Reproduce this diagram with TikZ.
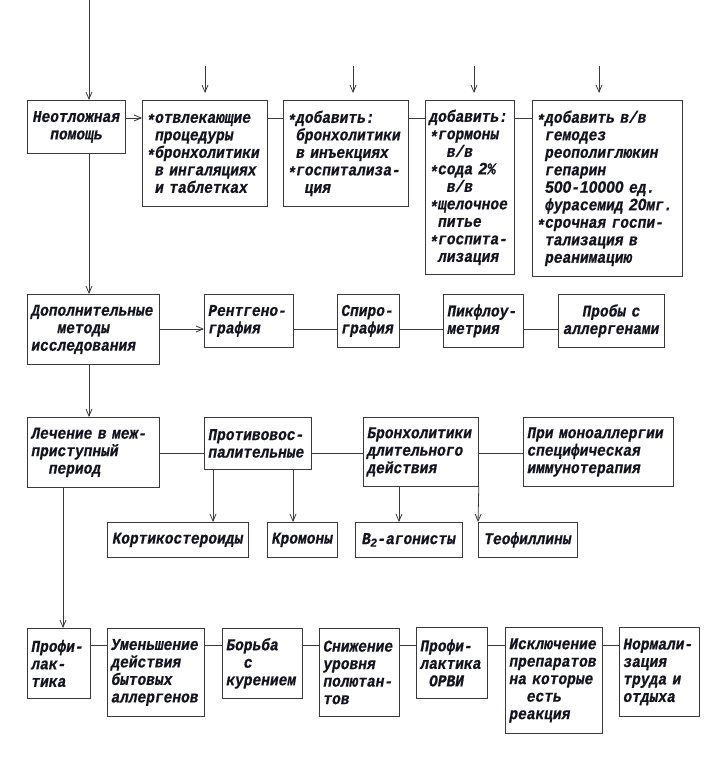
\documentclass[tikz,border=0pt]{standalone}
\usepackage{fontspec}
\newfontfamily\boxfnt{Liberation Mono}[FakeStretch=0.88, FakeBold=0.6]
\newfontfamily\digfnt{Liberation Sans}[FakeStretch=0.95, FakeBold=0.6]
\usetikzlibrary{arrows.meta}
\definecolor{ink}{HTML}{141420}
\definecolor{linec}{HTML}{3A3A3A}
\newcommand\bxf{\boxfnt\bfseries\itshape\fontsize{16.5}{17.5}\selectfont}
\newcommand\sk{\hspace*{8.7pt}}
\newcommand\bst{\raisebox{-0.35ex}{*}}
\newcommand\dg[1]{{\digfnt\bfseries\itshape #1}}
\begin{document}
\begin{tikzpicture}[x=1pt,y=-1pt,
  box/.style={draw=linec, line width=0.8pt, anchor=north west, inner xsep=4pt, inner ysep=1pt, align=left, font=\bxf, text=ink},
  cbox/.style={box, align=center},
  con/.style={draw=linec, line width=0.8pt},
  arr/.style={con, -{Straight Barb[length=7pt,width=6pt]}}]
\useasboundingbox[fill=white] (0,0) rectangle (712,768);

% Row 1
\node[cbox, text width=90pt, minimum height=53pt] (n1) at (27,100) {Неотложная\\помощь};
\node[box, text width=117pt, minimum height=106pt] (n2) at (142,100)
  {\bst отвлекающие\\\sk процедуры\\\bst бронхолитики\\\sk в ингаляциях\\\sk и таблетках};
\node[box, text width=117pt, minimum height=106pt] (n3) at (283,100)
  {\bst добавить:\\\sk бронхолитики\\\sk в инъекциях\\\bst госпитализа-\\\sk\sk ция};
\node[box, text width=81pt, minimum height=174pt] (n4) at (425,100)
  {добавить:\\\bst гормоны\\\sk\sk в/в\\\bst сода \dg{2}\%\\\sk\sk в/в\\\bst щелочное\\\sk питье\\\bst госпита-\\\sk лизация};
\node[box, text width=142pt, minimum height=176pt] (n5) at (532,100)
  {\bst добавить в/в\\\sk гемодез\\\sk реополиглюкин\\\sk гепарин\\\sk \dg{500}-\dg{10000} ед.\\\sk фурасемид \dg{20}мг.\\\bst срочная госпи-\\\sk тализация в\\\sk реанимацию};

% Row 2
\node[box, text width=124pt, minimum height=70pt] (d0) at (27,294)
  {Дополнительные\\\sk\sk\sk методы\\исследования};
\node[box, text width=81pt, minimum height=53pt] (d1) at (204,294) {Рентгено-\\графия};
\node[box, text width=54pt, minimum height=53pt] (d2) at (337,294) {Спиро-\\графия};
\node[box, text width=72pt, minimum height=53pt] (d3) at (443,294) {Пикфлоу-\\метрия};
\node[cbox, text width=98pt, minimum height=53pt] (d4) at (558,294) {Пробы с\\аллергенами};

% Row 3
\node[box, text width=124pt, minimum height=70pt] (t0) at (27,417)
  {Лечение в меж-\\приступный\\\sk\sk период};
\node[box, text width=99pt, minimum height=52pt] (t1) at (204,417) {Противовос-\\палительные};
\node[box, text width=107pt, minimum height=69pt] (t2) at (363,417) {Бронхолитики\\длительного\\действия};
\node[box, text width=142pt, minimum height=69pt] (t3) at (523,417) {При моноаллергии\\специфическая\\иммунотерапия};

\node[cbox, text width=133pt, minimum height=35pt] (s1) at (107,522) {Кортикостероиды};
\node[cbox, text width=62pt, minimum height=35pt] (s2) at (267,522) {Кромоны};
\node[cbox, text width=99pt, minimum height=35pt] (s3) at (355,522) {В\textsubscript{\dg{2}}-агонисты};
\node[cbox, text width=91pt, minimum height=35pt] (s4) at (478,522) {Теофиллины};

% Row 4
\node[box, text width=55pt, minimum height=70pt] (p0) at (27,628) {Профи-\\лак-\\тика};
\node[box, text width=89pt, minimum height=88pt] (p1) at (107,628) {Уменьшение\\действия\\бытовых\\аллергенов};
\node[box, text width=72pt, minimum height=70pt] (p2) at (222,628) {Борьба\\\sk\sk с\\курением};
\node[box, text width=72pt, minimum height=88pt] (p3) at (319,628) {Снижение\\уровня\\полютан-\\тов};
\node[box, text width=63pt, minimum height=71pt] (p4) at (416,627) {Профи-\\лактика\\\sk ОРВИ};
\node[box, text width=89pt, minimum height=106pt] (p5) at (505,627) {Исключение\\препаратов\\на которые\\\sk\sk есть\\реакция};
\node[box, text width=72pt, minimum height=89pt] (p6) at (619,627) {Нормали-\\зация\\труда и\\отдыха};

% connectors
\coordinate (top) at (89,0);
\coordinate (r1) at (0,118);
\coordinate (r2) at (0,329);
\coordinate (r3) at (0,453);
\coordinate (r4) at (0,645);
\coordinate (c0) at (63,0);
\coordinate (c1) at (213,0);
\coordinate (c2) at (293,0);
\coordinate (c3) at (399,0);
\coordinate (a2) at (205,66);
\coordinate (a3) at (353,66);
\coordinate (a4) at (474,66);
\coordinate (a5) at (599,66);

\draw[arr] (top) -- (top |- n1.north);
\foreach \a/\n in {a2/n2,a3/n3,a4/n4,a5/n5}
  \draw[arr, shorten >=7pt] (\a) -- (\a |- \n.north);
\draw[arr] (n1.east |- r1) -- (n2.west |- r1);
\draw[con] (n2.east |- r1) -- (n3.west |- r1);
\draw[con] (n3.east |- r1) -- (n4.west |- r1);
\draw[con] (n4.east |- r1) -- (n5.west |- r1);

\draw[arr] (top |- n1.south) -- (top |- d0.north);
\draw[arr] (d0.east |- r2) -- (d1.west |- r2);
\draw[con] (d1.east |- r2) -- (d2.west |- r2);
\draw[con] (d2.east |- r2) -- (d3.west |- r2);
\draw[con] (d3.east |- r2) -- (d4.west |- r2);

\draw[arr] (top |- d0.south) -- (top |- t0.north);
\draw[con] (t0.east |- r3) -- (t1.west |- r3);
\draw[con] (t1.east |- r3) -- (t2.west |- r3);
\draw[con] (t2.east |- r3) -- (t3.west |- r3);
\draw[arr] (c1 |- t1.south) -- (c1 |- s1.north);
\draw[arr] (c2 |- t1.south) -- (c2 |- s2.north);
\draw[arr] (c3 |- t2.south) -- (c3 |- s3.north);
\draw[arr] (t2.south east) -- (s4.north west);

\draw[arr] (c0 |- t0.south) -- (c0 |- p0.north);
\draw[con] (p0.east |- r4) -- (p1.west |- r4);
\draw[con] (p1.east |- r4) -- (p2.west |- r4);
\draw[con] (p2.east |- r4) -- (p3.west |- r4);
\draw[con] (p3.east |- r4) -- (p4.west |- r4);
\draw[con] (p4.east |- r4) -- (p5.west |- r4);
\draw[con] (p5.east |- r4) -- (p6.west |- r4);
\end{tikzpicture}
\end{document}
